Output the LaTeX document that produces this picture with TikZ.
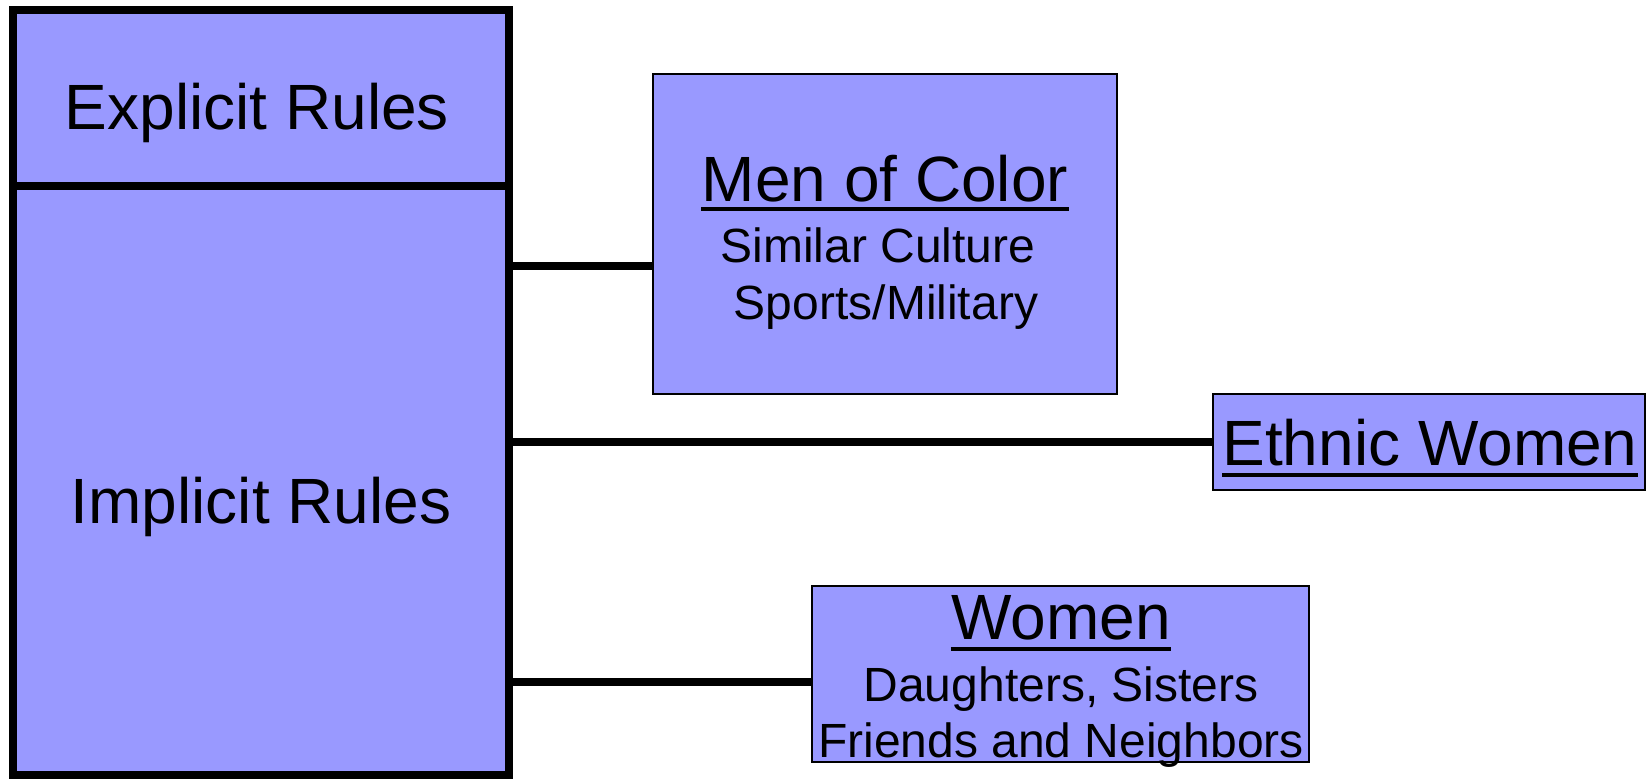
\documentclass[tikz,border=0pt]{standalone}
\usepackage{fontspec}
\setmainfont{Liberation Sans}
\definecolor{boxfill}{RGB}{153,153,255}
\begin{document}
\begin{tikzpicture}[x=0.5pt,y=-0.5pt,
  bigbox/.style={draw=black,fill=boxfill,line width=4pt,rectangle,inner sep=0pt,outer sep=0pt},
  smallbox/.style={draw=black,fill=boxfill,line width=1.2pt,rectangle,inner sep=0pt,outer sep=0pt},
  conn/.style={line width=4pt,black},
  big/.style={font=\fontsize{32}{38}\selectfont,inner sep=0pt,anchor=base},
  small/.style={font=\fontsize{24}{29}\selectfont,inner sep=0pt,anchor=base},
  uline/.style={line width=2pt,black}]
\useasboundingbox (0,0) rectangle (1649,779);
% connector heights
\coordinate (c1) at (0,266);
\coordinate (c2) at (0,442);
\coordinate (c3) at (0,682);
% boxes
\node[bigbox,minimum width=248pt,minimum height=88pt] (explicit) at (260.5,98) {};
\node[bigbox,minimum width=248pt,minimum height=294.5pt] (implicit) at (260.5,480.5) {};
\node[smallbox,minimum width=232pt,minimum height=160pt] (men) at (885,234) {};
\node[smallbox,minimum width=216pt,minimum height=48pt] (ethnic) at (1429,442) {};
\node[smallbox,minimum width=248.5pt,minimum height=88pt] (women) at (1060.5,674) {};
% connectors
\draw[conn] (implicit.east |- c1) -- (men.west |- c1);
\draw[conn] (implicit.east |- c2) -- (ethnic.west |- c2);
\draw[conn] (implicit.east |- c3) -- (women.west |- c3);
% texts
\node[big] (tExp) at (257,130) {Explicit Rules};
\node[big] (tImp) at (261,524) {Implicit Rules};
\node[big] (tMen) at (885,202) {Men of Color};
\draw[uline] ([yshift=-3.5pt]tMen.base west) -- ([yshift=-3.5pt]tMen.base east);
\node[small] (tSim) at (878,263) {Similar Culture};
\node[small] (tSpo) at (886,320) {Sports/Military};
\node[big] (tEth) at (1430,466) {Ethnic Women};
\draw[uline] ([yshift=-4.5pt]tEth.base west) -- ([yshift=-4.5pt]tEth.base east);
\node[big] (tWom) at (1061,640) {Women};
\draw[uline] ([yshift=-4.5pt]tWom.base west) -- ([yshift=-4.5pt]tWom.base east);
\node[small] (tDau) at (1061,702) {Daughters, Sisters};
\node[small] (tFri) at (1061,758) {Friends and Neighbors};
\end{tikzpicture}
\end{document}
